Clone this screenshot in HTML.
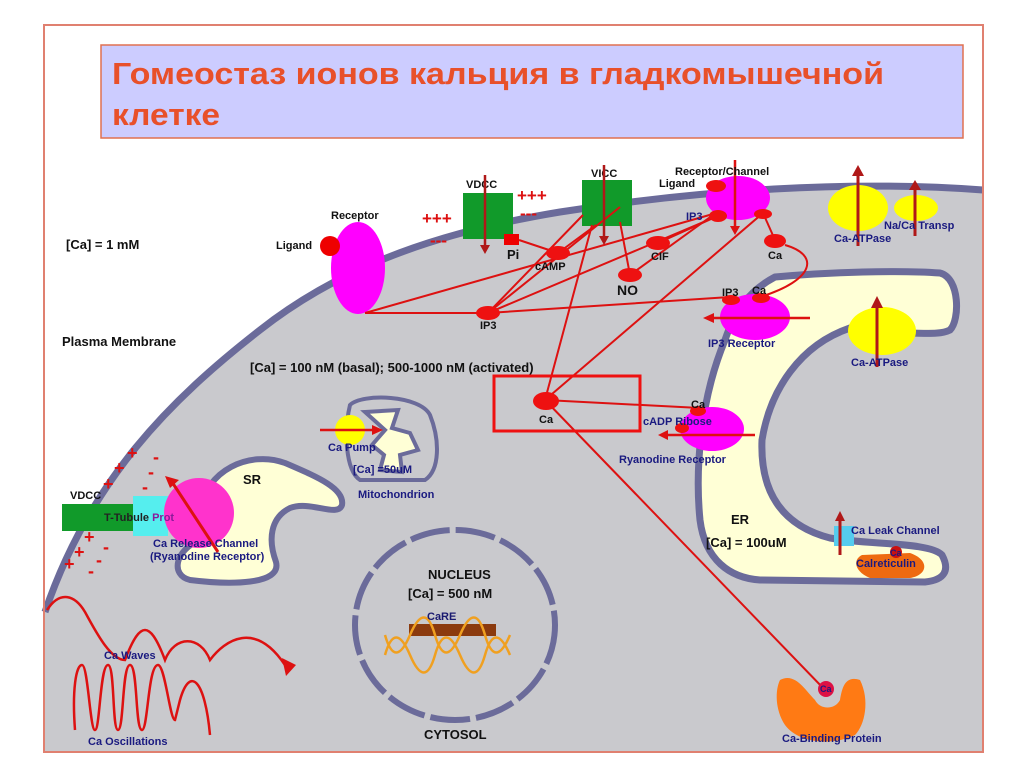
<!DOCTYPE html>
<html><head><meta charset="utf-8"><style>
html,body{margin:0;padding:0;background:#fff;}
svg{display:block;}
text{font-family:"Liberation Sans",Arial,sans-serif;font-weight:bold;}
</style></head><body>
<svg width="1024" height="768" viewBox="0 0 1024 768" xmlns="http://www.w3.org/2000/svg">
<rect x="0" y="0" width="1024" height="768" fill="#fff"/>
<!-- cell gray -->
<path d="M45,612 C90,480 170,400 260,330 C330,275 420,235 560,212 C700,190 850,180 983,190 L983,752 L45,752 Z" fill="#c9c9cd"/>
<path d="M45,612 C90,480 170,400 260,330 C330,275 420,235 560,212 C700,190 850,180 983,190" fill="none" stroke="#6b6b9a" stroke-width="7"/>
<!-- frame -->
<rect x="44" y="25" width="939" height="727" fill="none" stroke="#e08070" stroke-width="2"/>
<!-- title -->
<rect x="101" y="45" width="862" height="93" fill="#ccccff" stroke="#e07050" stroke-width="1.5"/>
<text x="112" y="84" font-size="31" fill="#e8502a" textLength="772" lengthAdjust="spacingAndGlyphs">Гомеостаз ионов кальция в гладкомышечной</text>
<text x="112" y="125" font-size="31" fill="#e8502a" textLength="108" lengthAdjust="spacingAndGlyphs">клетке</text>

<!-- ER -->
<path d="M775,277 C830,272 900,270 940,273 C960,278 960,320 950,330 C940,335 925,333 905,333 L850,328 C800,345 770,390 762,440 C760,490 780,525 830,538 C870,545 930,542 942,555 C950,570 945,580 925,582 L760,580 C730,578 705,560 700,520 C695,470 700,400 725,340 C735,310 750,290 775,277 Z" fill="#ffffd6" stroke="#6b6b9a" stroke-width="7"/>
<!-- SR -->
<path d="M200,512 C205,470 250,450 285,463 C315,476 345,488 342,505 C338,518 310,500 290,508 C270,518 268,540 276,562 C282,585 230,585 190,580 C170,575 175,550 200,540 Z" fill="#ffffd6" stroke="#6b6b9a" stroke-width="6"/>
<!-- Mitochondrion -->
<path d="M350,405 C362,393 420,395 430,415 C440,440 440,470 425,480 L360,480 C345,470 344,430 350,405 Z" fill="#c9c9cd" stroke="#6b6b9a" stroke-width="4"/>
<path d="M365,412 L398,410 L392,428 L410,433 L418,450 L400,455 L402,472 L380,470 L384,455 L372,445 L385,430 Z" fill="#ffffd6" stroke="#6b6b9a" stroke-width="4"/>
<!-- Nucleus -->
<ellipse cx="455" cy="625" rx="100" ry="95" fill="none" stroke="#6b6b9a" stroke-width="6" stroke-dasharray="40,6"/>
<rect x="409" y="624" width="87" height="12" fill="#8b3a0e"/>
<path d="M385,655 Q395,620 410,655 T435,655 T460,655 T485,655 T510,655 M385,635 Q395,670 410,635 T435,635 T460,635 T485,635 T510,635" fill="none" stroke="#f0a020" stroke-width="2.5"/>
<text x="427" y="620" font-size="11" fill="#1a1a70" font-weight="normal">CaRE</text>
<text x="428" y="579" font-size="13" fill="#111" font-weight="normal">NUCLEUS</text>
<text x="408" y="598" font-size="13" fill="#111" font-weight="normal">[Ca] = 500 nM</text>
<text x="424" y="739" font-size="13" fill="#111" font-weight="normal">CYTOSOL</text>

<!-- Receptor -->
<ellipse cx="358" cy="268" rx="27" ry="46" fill="#ff00ff"/>
<circle cx="330" cy="246" r="10" fill="#ee0000"/>
<text x="331" y="219" font-size="11" fill="#111">Receptor</text>
<text x="276" y="249" font-size="11" fill="#111">Ligand</text>
<text x="66" y="249" font-size="13" fill="#111" font-weight="normal">[Ca] = 1 mM</text>
<text x="62" y="346" font-size="13" fill="#111" font-weight="normal">Plasma Membrane</text>
<text x="250" y="372" font-size="13" fill="#111" font-weight="normal">[Ca] = 100 nM (basal); 500-1000 nM (activated)</text>

<!-- VDCC -->
<rect x="463" y="193" width="50" height="46" fill="#119a2a"/>
<rect x="582" y="180" width="50" height="46" fill="#119a2a"/>
<rect x="504" y="234" width="15" height="11" fill="#ee0000"/>
<text x="466" y="188" font-size="11" fill="#111">VDCC</text>
<text x="591" y="177" font-size="11" fill="#111">VICC</text>
<text x="507" y="259" font-size="13" fill="#111">Pi</text>
<g fill="#dd1111" font-size="17"><text x="422" y="224">+++</text><text x="517" y="201">+++</text><text x="430" y="246">---</text><text x="520" y="219">---</text></g>
<!-- red lines network -->
<g stroke="#dd1111" stroke-width="2" fill="none">
<path d="M365,313 L488,313 L730,297"/>
<path d="M365,313 L720,212"/>
<path d="M488,313 L583,215"/>
<path d="M488,313 L620,207"/>
<path d="M488,313 L720,215"/>
<path d="M519,240 L558,253"/>
<path d="M558,253 L596,225"/>
<path d="M630,275 L713,215"/>
<path d="M658,243 L720,215"/>
<path d="M630,275 L620,222"/>
<path d="M545,400 L592,225"/>
<path d="M545,400 L763,213"/>
<path d="M545,400 L700,408"/>
<path d="M545,400 L825,690"/>
<path d="M763,213 L775,240"/>
<path d="M785,245 C820,255 815,280 760,297"/>
</g>
<g stroke="#b01818" stroke-width="2.5"><line x1="485" y1="175" x2="485" y2="250"/><line x1="604" y1="165" x2="604" y2="240"/></g>
<polygon points="480,245 490,245 485,254" fill="#b01818"/><polygon points="599,236 609,236 604,245" fill="#b01818"/>
<!-- second messengers -->
<ellipse cx="558" cy="253" rx="12" ry="7" fill="#ee1111"/>
<ellipse cx="658" cy="243" rx="12" ry="7" fill="#ee1111"/>
<ellipse cx="630" cy="275" rx="12" ry="7" fill="#ee1111"/>
<ellipse cx="488" cy="313" rx="12" ry="7" fill="#ee1111"/>
<text x="535" y="270" font-size="11" fill="#111">cAMP</text>
<text x="651" y="260" font-size="11" fill="#111">CIF</text>
<text x="617" y="295" font-size="14" fill="#111">NO</text>
<text x="480" y="329" font-size="11" fill="#111">IP3</text>
<!-- Receptor/Channel -->
<ellipse cx="738" cy="198" rx="32" ry="22" fill="#ff00ff"/>
<ellipse cx="716" cy="186" rx="10" ry="6" fill="#ee1111"/>
<ellipse cx="718" cy="216" rx="9" ry="6" fill="#ee1111"/>
<ellipse cx="763" cy="214" rx="9" ry="5" fill="#ee1111"/>
<ellipse cx="775" cy="241" rx="11" ry="7" fill="#ee1111"/>
<line x1="735" y1="160" x2="735" y2="232" stroke="#dd1111" stroke-width="2.5"/>
<polygon points="730,226 740,226 735,235" fill="#dd1111"/>
<text x="675" y="175" font-size="11" fill="#111">Receptor/Channel</text>
<text x="659" y="187" font-size="11" fill="#111">Ligand</text>
<text x="686" y="220" font-size="11" fill="#1a1a80">IP3</text>
<text x="768" y="259" font-size="11" fill="#111">Ca</text>
<!-- Ca-ATPase & Na/Ca -->
<ellipse cx="858" cy="208" rx="30" ry="23" fill="#ffff00"/>
<ellipse cx="916" cy="208" rx="22" ry="13" fill="#ffff00"/>
<line x1="858" y1="246" x2="858" y2="172" stroke="#b01818" stroke-width="3"/><polygon points="852,176 864,176 858,165" fill="#b01818"/>
<line x1="915" y1="236" x2="915" y2="186" stroke="#b01818" stroke-width="3"/><polygon points="909,190 921,190 915,180" fill="#b01818"/>
<text x="834" y="242" font-size="11" fill="#1a1a80">Ca-ATPase</text>
<text x="884" y="229" font-size="11" fill="#1a1a80">Na/Ca Transp</text>
<!-- IP3 receptor -->
<ellipse cx="755" cy="317" rx="35" ry="23" fill="#ff00ff"/>
<ellipse cx="731" cy="300" rx="9" ry="5" fill="#ee1111"/>
<ellipse cx="761" cy="298" rx="9" ry="5" fill="#ee1111"/>
<line x1="712" y1="318" x2="810" y2="318" stroke="#dd1111" stroke-width="2.5"/><polygon points="714,313 714,323 703,318" fill="#dd1111"/>
<text x="722" y="296" font-size="11" fill="#111">IP3</text><text x="752" y="294" font-size="11" fill="#111">Ca</text>
<text x="708" y="347" font-size="11" fill="#1a1a80">IP3 Receptor</text>
<!-- Ca-ATPase ER -->
<ellipse cx="882" cy="331" rx="34" ry="24" fill="#ffff00"/>
<line x1="877" y1="367" x2="877" y2="304" stroke="#b01818" stroke-width="3"/><polygon points="871,308 883,308 877,296" fill="#b01818"/>
<text x="851" y="366" font-size="11" fill="#1a1a80">Ca-ATPase</text>
<!-- Ryanodine -->
<ellipse cx="712" cy="429" rx="32" ry="22" fill="#ff00ff"/>
<ellipse cx="698" cy="411" rx="8" ry="5" fill="#ee1111"/>
<ellipse cx="682" cy="428" rx="7" ry="5" fill="#ee1111"/>
<line x1="665" y1="435" x2="755" y2="435" stroke="#dd1111" stroke-width="2.5"/><polygon points="668,430 668,440 658,435" fill="#dd1111"/>
<text x="691" y="408" font-size="11" fill="#111">Ca</text>
<text x="643" y="425" font-size="11" fill="#1a1a80">cADP Ribose</text>
<text x="619" y="463" font-size="11" fill="#1a1a80">Ryanodine Receptor</text>
<!-- Ca box -->
<rect x="494" y="376" width="146" height="55" fill="none" stroke="#ee1111" stroke-width="3"/>
<ellipse cx="546" cy="401" rx="13" ry="9" fill="#ee1111"/>
<text x="539" y="423" font-size="11" fill="#111">Ca</text>
<!-- mito pump -->
<circle cx="350" cy="430" r="15" fill="#ffff00"/>
<line x1="320" y1="430" x2="375" y2="430" stroke="#dd1111" stroke-width="2.5"/><polygon points="372,425 372,435 383,430" fill="#dd1111"/>
<text x="328" y="451" font-size="11" fill="#1a1a80">Ca Pump</text>
<text x="353" y="473" font-size="11" fill="#1a1a80">[Ca] =50uM</text>
<text x="358" y="498" font-size="11" fill="#1a1a80">Mitochondrion</text>
<!-- SR area -->
<text x="243" y="484" font-size="13" fill="#111">SR</text>
<rect x="62" y="504" width="75" height="27" fill="#119a2a"/>
<rect x="133" y="496" width="35" height="40" fill="#55eeee"/>
<circle cx="199" cy="513" r="35" fill="#ff33cc"/>
<line x1="218" y1="552" x2="172" y2="482" stroke="#dd1111" stroke-width="3"/><polygon points="165,476 179,480 170,488" fill="#dd1111"/>
<text x="70" y="499" font-size="11" fill="#111">VDCC</text>
<text x="104" y="521" font-size="11" fill="#333"><tspan fill="#222">T-Tubule </tspan><tspan fill="#8a1a9a">Prot</tspan></text>
<text x="153" y="547" font-size="11" fill="#1a1a80">Ca Release Channel</text>
<text x="150" y="560" font-size="11" fill="#1a1a80">(Ryanodine Receptor)</text>
<g fill="#dd1111" font-size="18"><text x="127" y="459">+</text><text x="114" y="474">+</text><text x="103" y="490">+</text><text x="84" y="543">+</text><text x="74" y="558">+</text><text x="64" y="570">+</text>
<text x="153" y="463">-</text><text x="148" y="478">-</text><text x="142" y="493">-</text><text x="103" y="553">-</text><text x="96" y="566">-</text><text x="88" y="577">-</text></g>
<!-- ER labels -->
<text x="731" y="524" font-size="13" fill="#111" font-weight="normal">ER</text>
<text x="706" y="547" font-size="13" fill="#111" font-weight="normal">[Ca] = 100uM</text>
<rect x="834" y="526" width="20" height="20" fill="#55ccee"/>
<line x1="840" y1="555" x2="840" y2="518" stroke="#b01818" stroke-width="3"/><polygon points="835,521 845,521 840,511" fill="#b01818"/>
<text x="851" y="534" font-size="11" fill="#1a1a80">Ca Leak Channel</text>
<path d="M862,555 L910,553 C930,560 928,575 910,578 L870,578 C855,572 852,560 862,555 Z" fill="#ee6a10"/>
<circle cx="896" cy="552" r="6" fill="#cc1010"/>
<text x="890" y="556" font-size="9" fill="#1a1a80">Ca</text>
<text x="856" y="567" font-size="11" fill="#1a1a80">Calreticulin</text>
<!-- Ca binding protein -->
<path d="M780,680 C795,672 805,690 815,700 C820,710 835,710 840,700 C842,688 845,675 860,680 C870,700 865,725 855,735 C835,745 800,745 785,725 C775,710 775,690 780,680 Z" fill="#ff7a14"/>
<circle cx="826" cy="689" r="8" fill="#dd1144"/>
<text x="820" y="692" font-size="9" fill="#1a1a80">Ca</text>
<text x="782" y="742" font-size="11" fill="#1a1a80">Ca-Binding Protein</text>
<!-- waves -->
<g fill="none" stroke="#dd1111" stroke-width="2.5">
<path d="M47,610 C60,590 75,595 85,612 C95,630 110,660 125,660 C140,620 150,620 165,660 C175,635 200,635 210,660 C225,640 255,620 285,665"/>
<path d="M75,730 C72,690 76,665 82,665 C88,665 90,730 95,730 C100,730 100,665 108,665 C115,665 112,730 118,730 C124,730 122,665 130,665 C138,665 135,730 142,730 C148,730 148,665 158,665 C165,665 170,720 175,720 L180,700 C190,665 205,680 210,735"/>
</g>
<polygon points="282,658 296,665 286,676" fill="#dd1111"/>
<text x="104" y="659" font-size="11" fill="#1a1a80">Ca Waves</text>
<text x="88" y="745" font-size="11" fill="#1a1a80">Ca Oscillations</text>
</svg>
</body></html>
